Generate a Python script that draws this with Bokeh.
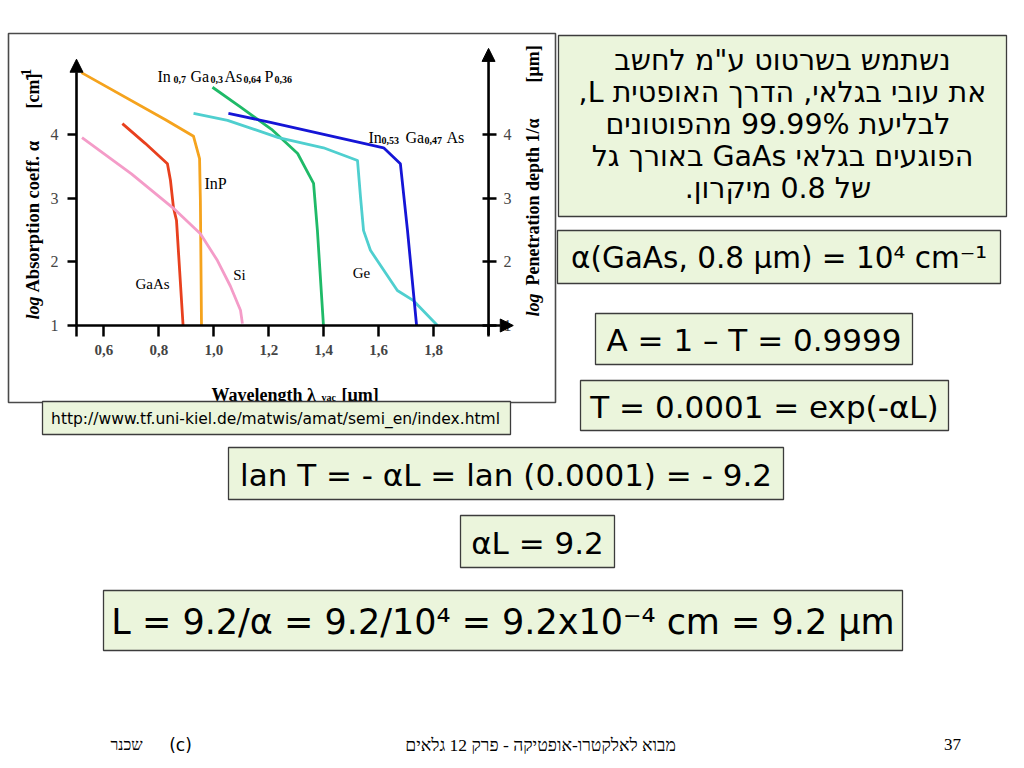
import math
from bokeh.plotting import figure
from bokeh.models import Range1d, LinearAxis, FixedTicker, CustomJSTickFormatter, Arrow, NormalHead
from bokeh.core.properties import value
from bokeh.embed import file_html
from bokeh.resources import INLINE

# ---------------- chart data (wavelength in um, log10 alpha in cm^-1) ----------------
inp_x = [0.518, 0.824, 0.926, 0.948, 0.951, 0.955]
inp_y = [4.97, 4.23, 3.97, 3.62, 2.96, 1.00]

gaas_x = [0.667, 0.750, 0.831, 0.842, 0.853, 0.864, 0.888]
gaas_y = [4.17, 3.86, 3.54, 3.28, 2.85, 2.65, 1.00]

si_x = [0.520, 0.700, 0.853, 0.951, 1.013, 1.060, 1.097, 1.104]
si_y = [3.95, 3.38, 2.84, 2.44, 2.02, 1.62, 1.24, 1.03]

ingaasp_x = [0.995, 1.100, 1.210, 1.305, 1.363, 1.377, 1.399]
ingaasp_y = [4.74, 4.42, 4.08, 3.70, 3.23, 2.49, 1.00]

ge_x = [0.926, 1.050, 1.235, 1.399, 1.523, 1.534, 1.545, 1.570, 1.668, 1.727, 1.814]
ge_y = [4.33, 4.22, 3.95, 3.79, 3.59, 3.01, 2.49, 2.18, 1.55, 1.39, 1.00]

ingaas_x = [1.053, 1.206, 1.618, 1.679, 1.705, 1.738]
ingaas_y = [4.33, 4.19, 3.79, 3.54, 2.49, 1.00]

x_ticks = [0.5, 0.6, 0.8, 1.0, 1.2, 1.4, 1.6, 1.8, 2.0]
y_ticks = [1, 2, 3, 4]

# ---------------- slide texts ----------------
hebrew_lines = [
    'נשתמש בשרטוט ע"מ לחשב',
    'את עובי בגלאי, הדרך האופטית L,',
    'לבליעת  99.99% מהפוטונים',
    'הפוגעים בגלאי GaAs באורך גל',
    'של  0.8 מיקרון.',
]
eq_texts = [
    "α(GaAs, 0.8 μm) = 10⁴ cm⁻¹",
    "A = 1 – T = 0.9999",
    "T = 0.0001 = exp(-αL)",
    "lan T = - αL = lan (0.0001) = - 9.2",
    "αL = 9.2",
    "L = 9.2/α = 9.2/10⁴ = 9.2x10⁻⁴ cm = 9.2 μm",
]
url_text = "http://www.tf.uni-kiel.de/matwis/amat/semi_en/index.html"
footer_mid = "מבוא לאלקטרו-אופטיקה - פרק 12 גלאים"
footer_author = "שכנר"
footer_c = "(c)"
footer_page = "37"


def rtl(s):
    # right-to-left paragraph direction for Hebrew lines
    return "\u202b" + s + "\u202c"


# ---------------- layout (screen pixels) ----------------
W, H = 1016, 760
OFF = 0
AX_X0, PX_PER_UM = 76.0, 274.7      # px of lambda = 0.5 um
AX_Y1, PX_PER_DEC = 325.0, 63.7     # px of log alpha = 1

cx0 = 0.5 - (AX_X0 - OFF) / PX_PER_UM
cx1 = 0.5 + (OFF + W - AX_X0) / PX_PER_UM
cy0 = 1.0 - (OFF + H - AX_Y1) / PX_PER_DEC
cy1 = 1.0 + (AX_Y1 - OFF) / PX_PER_DEC

p = figure(width=W, height=H, x_range=Range1d(cx0, cx1), y_range=Range1d(cy0, cy1),
           x_axis_type=None, y_axis_type=None, toolbar_location=None,
           output_backend="svg", min_border=0, title=None)
p.outline_line_color = None
p.background_fill_color = "white"
p.border_fill_color = "white"
p.extra_x_ranges = {"px": Range1d(OFF, OFF + W)}
p.extra_y_ranges = {"px": Range1d(OFF + H, OFF)}

PX = dict(x_range_name="px", y_range_name="px")
SANS = "DejaVu Sans"
SERIF = "Liberation Serif"


def ptext(x, y, t, size, font=SANS, style="normal", color="black", align="center",
          baseline="middle", angle=0.0):
    p.text(x=[x], y=[y], text=[t], text_font=value(font), text_font_size=value(f"{size}px"),
           text_font_style=style, text_color=color, text_align=align,
           text_baseline=baseline, angle=angle, **PX)


def box(l, r, t, b, fill="#ebf5dc", line="#3c3c3c", lw=1.3):
    p.quad(left=[l], right=[r], top=[t], bottom=[b], fill_color=fill,
           line_color=line, line_width=lw, **PX)


# chart picture frame
box(8, 555, 33, 402, fill="white", line="#4a4a4a", lw=1.6)

# curves
curves = [
    (inp_x, inp_y, "#f5a31d"),
    (gaas_x, gaas_y, "#e8401e"),
    (si_x, si_y, "#f49cc8"),
    (ingaasp_x, ingaasp_y, "#1fba68"),
    (ge_x, ge_y, "#4fcfcf"),
    (ingaas_x, ingaas_y, "#1515d6"),
]
for xs, ys, col in curves:
    p.line(xs, ys, line_color=col, line_width=2.8, line_join="round")

# axes
fmt = CustomJSTickFormatter(code="""
if (tick < 0.55 || tick > 1.95) { return ""; }
return tick.toFixed(1).replace(".", ",");
""")
xax = LinearAxis(fixed_location=1.0, ticker=FixedTicker(ticks=x_ticks), formatter=fmt)
xax.axis_line_color = None
xax.major_tick_in = 0
xax.major_tick_out = 11
xax.major_tick_line_width = 2.5
xax.minor_tick_line_color = None
xax.major_label_standoff = 8
xax.major_label_text_font = SERIF
xax.major_label_text_font_style = "bold"
xax.major_label_text_font_size = "15px"
p.add_layout(xax, "below")

yax = LinearAxis(fixed_location=0.5, ticker=FixedTicker(ticks=y_ticks))
yax.axis_line_color = None
yax.major_tick_in = 0
yax.major_tick_out = 9
yax.major_tick_line_width = 2.5
yax.minor_tick_line_color = None
yax.major_label_standoff = 9
yax.major_label_text_font = SERIF
yax.major_label_text_font_size = "16px"
p.add_layout(yax, "left")

ryax = LinearAxis(fixed_location=2.0, ticker=FixedTicker(ticks=y_ticks))
ryax.axis_line_color = None
ryax.major_tick_in = 6
ryax.major_tick_out = 8
ryax.major_tick_line_width = 2.5
ryax.minor_tick_line_color = None
ryax.major_label_standoff = 7
ryax.major_label_text_font = SERIF
ryax.major_label_text_font_size = "16px"
p.add_layout(ryax, "right")

for xs0, ys0, xe, ye in [(0.5, 1.0, 0.5, 5.18), (0.5, 1.0, 2.09, 1.0), (2.0, 0.85, 2.0, 5.35)]:
    p.add_layout(Arrow(x_start=xs0, y_start=ys0, x_end=xe, y_end=ye, line_width=2.6,
                       line_color="black",
                       end=NormalHead(size=13, fill_color="black", line_color="black")))

# curve labels
ptext(215, 183, "InP", 16, font=SERIF)
ptext(152, 283, "GaAs", 15, font=SERIF)
ptext(239, 274, "Si", 15, font=SERIF)
ptext(361, 272, "Ge", 15, font=SERIF)
for t, x, sub in [("In", 157, False), ("0,7", 173, True), ("Ga", 190, False), ("0,3", 210, True),
                  ("As", 224, False), ("0,64", 243, True), ("P", 264, False), ("0,36", 274, True)]:
    ptext(x, 79 if sub else 76, t, 10 if sub else 16, font=SERIF,
          style="bold" if sub else "normal", align="left", baseline="alphabetic")
for t, x, sub in [("In", 368, False), ("0,53", 381, True), ("Ga", 405, False),
                  ("0,47", 424, True), ("As", 446, False)]:
    ptext(x, 140 if sub else 137, t, 10 if sub else 16, font=SERIF,
          style="bold" if sub else "normal", align="left", baseline="alphabetic")

# axis titles
ptext(211, 394, "Wavelength λ", 18, font=SERIF, style="bold", align="left", baseline="alphabetic")
ptext(321, 397, "vac", 10, font=SERIF, style="bold", align="left", baseline="alphabetic")
ptext(341, 394, "[μm]", 18, font=SERIF, style="bold", align="left", baseline="alphabetic")

A = math.pi / 2
ptext(32, 319, "log", 18, font=SERIF, style="bold italic", align="left", angle=A)
ptext(32, 292, "Absorption coeff. α", 18.5, font=SERIF, style="bold", align="left", angle=A)
ptext(32, 108, "[cm]", 18, font=SERIF, style="bold", align="left", angle=A)
ptext(25, 80, "-1", 14, font=SERIF, style="bold", align="left", angle=A)

ptext(532, 316, "log", 18, font=SERIF, style="bold italic", align="left", angle=A)
ptext(532, 285, "Penetration depth 1/α", 18, font=SERIF, style="bold", align="left", angle=A)
ptext(532, 82, "[μm]", 18, font=SERIF, style="bold", align="left", angle=A)

# URL box
box(42, 510, 401, 434)
ptext(275, 418, url_text, 15.5)

# Hebrew box
box(558, 1006, 35, 216)
for i, line in enumerate(hebrew_lines):
    ptext(782, 60 + 32 * i, rtl(line), 28.5)

# equation boxes
eq_boxes = [
    (557, 1000, 230, 283, 29.5),
    (595, 912, 313, 364, 31),
    (580, 948, 380, 430, 31),
    (228, 783, 447, 499, 31),
    (460, 614, 515, 567, 31),
    (103, 902, 590, 650, 35),
]
for t, (l, r, tp, bt, fs) in zip(eq_texts, eq_boxes):
    box(l, r, tp, bt)
    ptext((l + r) / 2, (tp + bt) / 2 + 1, t, fs)

# footer
ptext(952, 744, footer_page, 17, font=SERIF)
ptext(540, 744, rtl(footer_mid), 17.5, font=SERIF)
ptext(180, 744, footer_c, 17, font=SANS)
ptext(126, 744, footer_author, 16, font=SERIF)

open("out.html", "w").write(file_html(p, INLINE))
